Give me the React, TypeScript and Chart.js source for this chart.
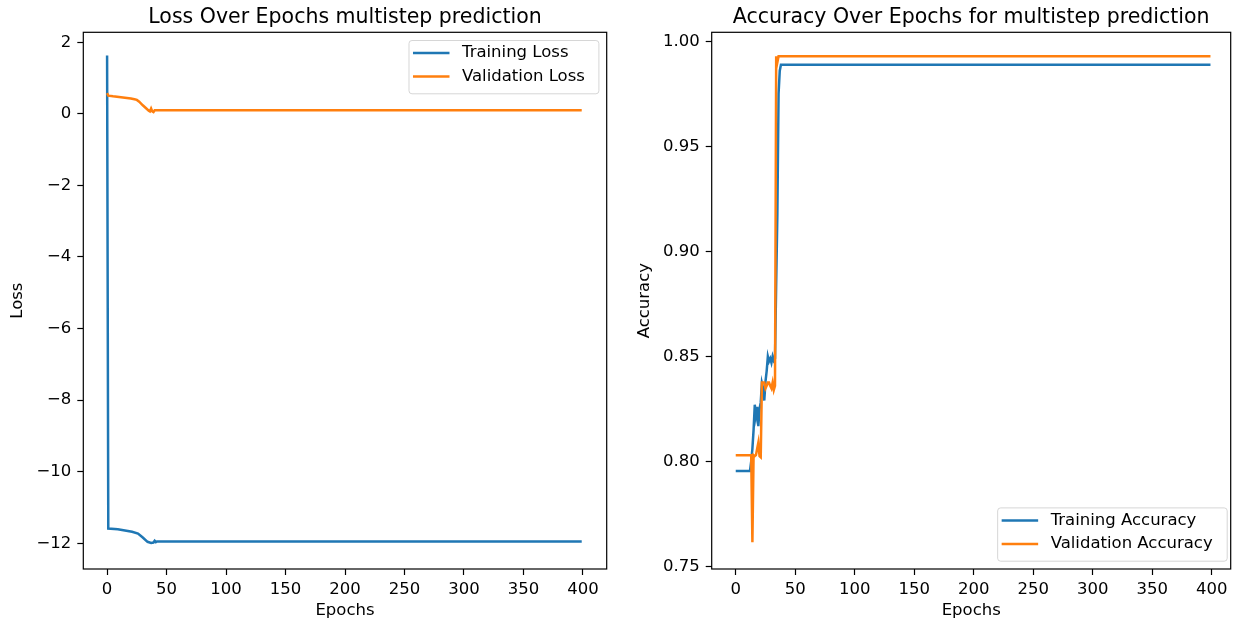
import React, { useEffect, useRef } from "react";
import { Chart, registerables } from "chart.js";

Chart.register(...registerables);

// ---- Data ----
const X_TICKS = [0, 50, 100, 150, 200, 250, 300, 350, 400];
const LOSS_TICKS = [-12, -10, -8, -6, -4, -2, 0, 2];
const ACC_TICKS = [0.75, 0.8, 0.85, 0.9, 0.95, 1.0];

const LOSS_TRAIN_EPOCHS = [0, 1, 9, 21, 26, 30, 34, 37, 39, 40, 41, 42, 399];
const LOSS_TRAIN = [1.63, -11.59, -11.61, -11.68, -11.73, -11.84, -11.96, -11.99, -11.98, -11.93, -11.97, -11.95, -11.95];

const LOSS_VAL_EPOCHS = [0, 1, 5, 10, 15, 20, 23, 25, 27, 30, 33, 35, 36, 37, 38, 39, 40, 399];
const LOSS_VAL = [0.58, 0.51, 0.49, 0.47, 0.45, 0.43, 0.41, 0.39, 0.34, 0.24, 0.15, 0.09, 0.07, 0.15, 0.07, 0.05, 0.1, 0.1];

const ACC_TRAIN_EPOCHS = [0, 12, 13, 14, 15, 16, 17, 18, 19, 20, 21, 22, 23, 24, 25, 26, 27, 28, 29, 30, 31, 32, 33, 34, 35, 36, 37, 38, 399];
const ACC_TRAIN = [0.7955, 0.7955, 0.8, 0.806, 0.815, 0.827, 0.8216, 0.826, 0.8168, 0.825, 0.828, 0.8373, 0.835, 0.829, 0.838, 0.843, 0.85, 0.8477, 0.849, 0.847, 0.85, 0.848, 0.849, 0.885, 0.918, 0.975, 0.986, 0.9889, 0.9889];

const ACC_VAL_EPOCHS = [0, 13, 14, 15, 16, 17, 18, 19, 20, 21, 22, 23, 24, 25, 26, 27, 28, 29, 30, 31, 32, 33, 34, 35, 36, 399];
const ACC_VAL = [0.803, 0.803, 0.7616, 0.803, 0.8025, 0.803, 0.806, 0.8089, 0.8025, 0.802, 0.8376, 0.8376, 0.8376, 0.8348, 0.836, 0.8376, 0.8376, 0.836, 0.8348, 0.8376, 0.834, 0.836, 0.9929, 0.99, 0.9929, 0.9929];

const BLUE = "#1f77b4";
const ORANGE = "#ff7f0e";
const FONT = "'DejaVu Sans', 'Liberation Sans', sans-serif";

const toPoints = (xs: number[], ys: number[]) => xs.map((x, i) => ({ x, y: ys[i] }));

const mplPlugin = {
  id: "mplFrame",
  afterDatasetsDraw(chart: any, _args: any, opts: any) {
    const { ctx, chartArea: a } = chart;
    ctx.save();
    // frame
    ctx.strokeStyle = "#000";
    ctx.lineWidth = 1.2;
    ctx.strokeRect(a.left, a.top, a.right - a.left, a.bottom - a.top);
    // title
    ctx.fillStyle = "#000";
    ctx.font = `20.5px ${FONT}`;
    ctx.textAlign = "center";
    ctx.textBaseline = "alphabetic";
    ctx.fillText(opts.title, (a.left + a.right) / 2, 23);
    // legend
    ctx.font = `16.5px ${FONT}`;
    const ds = chart.data.datasets;
    const tw = Math.max(...ds.map((d: any) => ctx.measureText(d.label).width));
    const w = 4.5 + 36.5 + 12.5 + tw + opts.legendTrail;
    const h = 53.3;
    const x = a.right - opts.legendGap - w;
    const y = opts.legendCorner === "upper" ? a.top + 7.7 : a.bottom - 8.3 - h;
    ctx.beginPath();
    ctx.roundRect(x + 0.5, y + 0.5, w, h, 3);
    ctx.fillStyle = "rgba(255,255,255,0.8)";
    ctx.fill();
    ctx.strokeStyle = "rgba(204,204,204,0.8)";
    ctx.lineWidth = 1;
    ctx.stroke();
    const rows = [13, 36.5];
    ds.forEach((d: any, i: number) => {
      const ry = y + rows[i];
      ctx.beginPath();
      ctx.moveTo(x + 4.5, ry);
      ctx.lineTo(x + 41, ry);
      ctx.strokeStyle = d.borderColor;
      ctx.lineWidth = 2.5;
      ctx.stroke();
      ctx.fillStyle = "#000";
      ctx.textAlign = "left";
      ctx.textBaseline = "middle";
      ctx.fillText(d.label, x + 53.5, ry);
    });
    ctx.restore();
  },
};

function makeConfig(opts: {
  datasets: any[];
  xMin: number;
  xMax: number;
  yMin: number;
  yMax: number;
  yTicks: number[];
  yFmt: (v: number) => string;
  yTitle: string;
  yWidth: number;
  yTitlePad: number;
  rightPad: number;
  title: string;
  legendCorner: string;
  legendGap: number;
  legendTrail: number;
}) {
  const tickFont = { family: FONT, size: 16.5 };
  const grid = {
    display: true,
    drawOnChartArea: false,
    drawTicks: true,
    tickLength: 6,
    tickWidth: 1.2,
    tickColor: "#000",
  };
  return {
    type: "line",
    data: { datasets: opts.datasets },
    plugins: [mplPlugin],
    options: {
      animation: false,
      responsive: false,
      maintainAspectRatio: false,
      devicePixelRatio: 1,
      layout: { padding: { top: 32.3, right: opts.rightPad, left: 0, bottom: 0 } },
      elements: { point: { radius: 0 }, line: { tension: 0 } },
      plugins: {
        legend: { display: false },
        tooltip: { enabled: false },
        title: { display: false },
        mplFrame: {
          title: opts.title,
          legendCorner: opts.legendCorner,
          legendGap: opts.legendGap,
          legendTrail: opts.legendTrail,
        },
      },
      scales: {
        x: {
          type: "linear",
          min: opts.xMin,
          max: opts.xMax,
          afterBuildTicks: (s: any) => {
            s.ticks = X_TICKS.map((v) => ({ value: v }));
          },
          afterFit: (s: any) => {
            s.height = 56;
          },
          ticks: {
            autoSkip: false,
            maxRotation: 0,
            padding: 5,
            color: "#000",
            font: tickFont,
            callback: (v: any) => String(v),
          },
          grid,
          border: { display: false },
          title: {
            display: true,
            text: "Epochs",
            color: "#000",
            font: tickFont,
            padding: { top: 0, bottom: 4 },
          },
        },
        y: {
          type: "linear",
          min: opts.yMin,
          max: opts.yMax,
          afterBuildTicks: (s: any) => {
            s.ticks = opts.yTicks.map((v) => ({ value: v }));
          },
          afterFit: (s: any) => {
            s.width = opts.yWidth;
          },
          ticks: {
            autoSkip: false,
            padding: 6,
            color: "#000",
            font: tickFont,
            callback: (v: any) => opts.yFmt(Number(v)),
          },
          grid,
          border: { display: false },
          title: {
            display: true,
            text: opts.yTitle,
            color: "#000",
            font: tickFont,
            padding: { top: opts.yTitlePad, bottom: 0 },
          },
        },
      },
    },
  };
}

function ChartCanvas({ config, left, width }: { config: any; left: number; width: number }) {
  const ref = useRef<HTMLCanvasElement | null>(null);
  useEffect(() => {
    if (!ref.current) return;
    const chart = new Chart(ref.current, config);
    return () => chart.destroy();
  }, [config]);
  return (
    <canvas
      ref={ref}
      width={width}
      height={625}
      style={{ position: "absolute", left, top: 0, width, height: 625 }}
    />
  );
}

const lossConfig = makeConfig({
  datasets: [
    {
      label: "Training Loss",
      data: toPoints(LOSS_TRAIN_EPOCHS, LOSS_TRAIN),
      borderColor: BLUE,
      backgroundColor: BLUE,
      borderWidth: 2.5,
      order: 1,
    },
    {
      label: "Validation Loss",
      data: toPoints(LOSS_VAL_EPOCHS, LOSS_VAL),
      borderColor: ORANGE,
      backgroundColor: ORANGE,
      borderWidth: 2.5,
      order: 0,
    },
  ],
  xMin: -20,
  xMax: 420,
  yMin: -12.72,
  yMax: 2.28,
  yTicks: LOSS_TICKS,
  yFmt: (v) => (v < 0 ? "\u2212" + Math.abs(v) : String(v)),
  yTitle: "Loss",
  yWidth: 83.3,
  yTitlePad: 8,
  rightPad: 625 - 606.7,
  title: "Loss Over Epochs multistep prediction",
  legendCorner: "upper",
  legendGap: 8.3,
  legendTrail: 13.5,
});

const accConfig = makeConfig({
  datasets: [
    {
      label: "Training Accuracy",
      data: toPoints(ACC_TRAIN_EPOCHS, ACC_TRAIN),
      borderColor: BLUE,
      backgroundColor: BLUE,
      borderWidth: 2.5,
      order: 1,
    },
    {
      label: "Validation Accuracy",
      data: toPoints(ACC_VAL_EPOCHS, ACC_VAL),
      borderColor: ORANGE,
      backgroundColor: ORANGE,
      borderWidth: 2.5,
      order: 0,
    },
  ],
  xMin: -20.2,
  xMax: 416,
  yMin: 0.7488,
  yMax: 1.0043,
  yTicks: ACC_TICKS,
  yFmt: (v) => v.toFixed(2),
  yTitle: "Accuracy",
  yWidth: 86.7,
  yTitlePad: 10,
  rightPad: 1241 - 1230.7,
  title: "Accuracy Over Epochs for multistep prediction",
  legendCorner: "lower",
  legendGap: 4,
  legendTrail: 14,
});

export default function App() {
  return (
    <div style={{ position: "absolute", left: 0, top: 0, width: 1241, height: 625, background: "#fff" }}>
      <ChartCanvas config={lossConfig} left={0} width={625} />
      <ChartCanvas config={accConfig} left={625} width={616} />
    </div>
  );
}
